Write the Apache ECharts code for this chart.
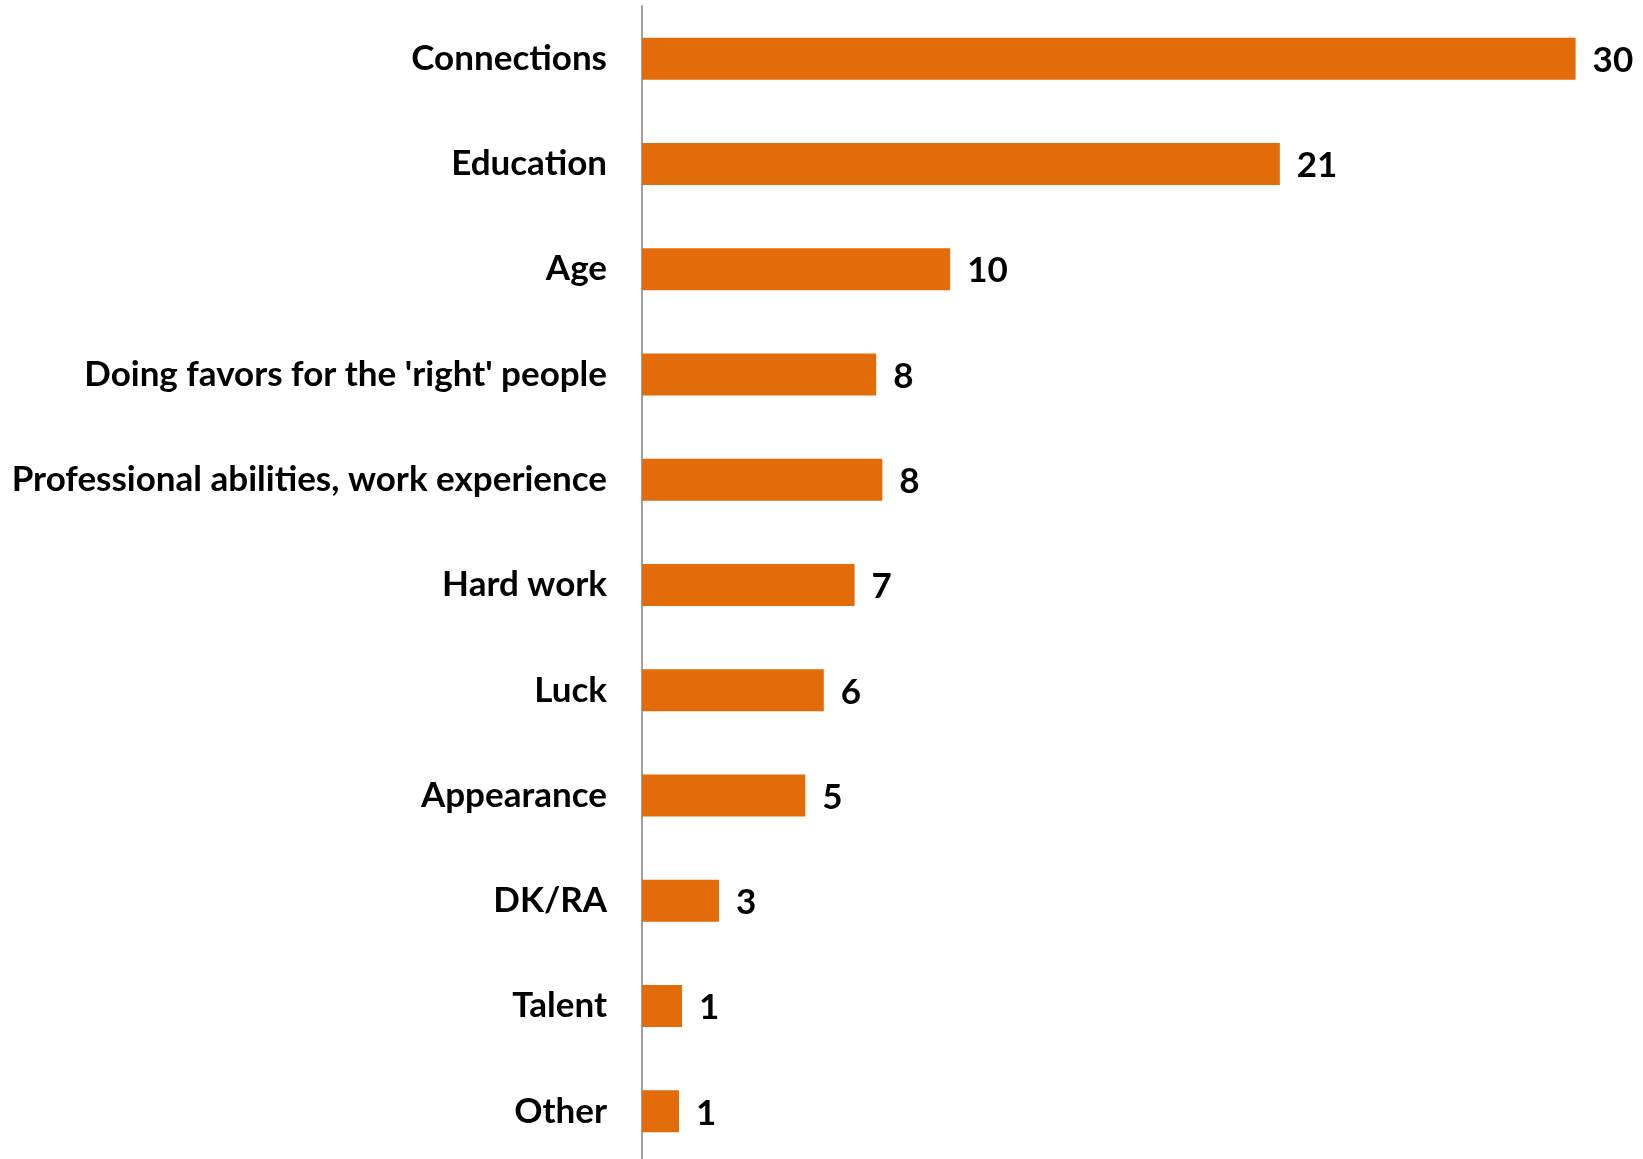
<!DOCTYPE html>
<html>
<head>
<meta charset="utf-8">
<script src="https://cdn.jsdelivr.net/npm/echarts@6/dist/echarts.min.js"></script>
<style>
  html, body { margin: 0; padding: 0; background: #fff; overflow: hidden; }
  /* a bit taller than the window: the axis runs past the bottom edge */
  #main { width: 1643px; height: 1164px; }
</style>
</head>
<body>
<div id="main"></div>
<script>
// categories, top to bottom
const categories = [
    'Connections',
    'Education',
    'Age',
    "Doing favors for the 'right' people",
    'Professional abilities, work experience',
    'Hard work',
    'Luck',
    'Appearance',
    'DK/RA',
    'Talent',
    'Other'
];

// percentages (labels show rounded values)
const values = [30.3, 20.7, 10.0, 7.6, 7.8, 6.9, 5.9, 5.3, 2.5, 1.3, 1.2];

const xMax = 32;

const chart = echarts.init(document.getElementById('main'));

const font = 'Lato, "Open Sans", sans-serif';

chart.setOption({
    animation: false,
    grid: {
        left: 642,
        right: 15,
        top: 6,
        bottom: 0
    },
    xAxis: {
        type: 'value',
        min: 0,
        max: xMax,
        show: false
    },
    yAxis: {
        type: 'category',
        data: categories,
        inverse: true,
        axisLine: { show: true, lineStyle: { color: '#a0a0a0', width: 2 } },
        axisTick: { show: false },
        axisLabel: {
            margin: 35,
            color: '#000',
            fontFamily: font,
            fontWeight: 'bold',
            fontSize: 35
        }
    },
    series: [
        {
            type: 'bar',
            data: values,
            barWidth: 42,
            itemStyle: { color: '#e36c0a' },
            label: {
                show: true,
                position: 'right',
                distance: 17,
                color: '#000',
                fontFamily: font,
                fontWeight: 'bold',
                fontSize: 35,
                offset: [0, 2],
                formatter: p => Math.round(p.value)
            }
        }
    ]
});
</script>
</body>
</html>
